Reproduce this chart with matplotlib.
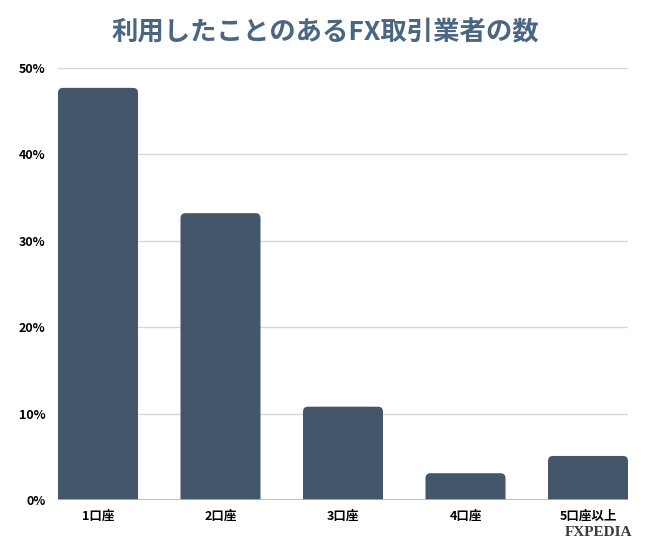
import matplotlib
matplotlib.use("Agg")
import matplotlib.pyplot as plt
from matplotlib.patches import FancyBboxPatch

plt.rcParams['font.family'] = ['Noto Sans CJK JP', 'DejaVu Sans']

categories = ['1口座', '2口座', '3口座', '4口座', '5口座以上']
values = [47.7, 33.2, 10.8, 3.1, 5.1]
yticks = [0, 10, 20, 30, 40, 50]
ytick_labels = ['0%', '10%', '20%', '30%', '40%', '50%']

bar_color = '#44576a'
title_color = '#4a6680'

fig = plt.figure(figsize=(6.5, 5.56), dpi=100)
ax = fig.add_axes([58/650, 56/556, 570/650, 432/556])

w = 0.653
bars = ax.bar(range(len(categories)), values, width=w, color='none')
ax.set_xlim(-w/2, len(categories) - 1 + w/2)
ax.set_ylim(0, 50)

# rounded top corners: redraw each bar as a rounded box, bottom pushed below the axis
px_x = 570 / (len(categories) - 1 + w)   # pixels per x unit
px_y = 432 / 50.0                        # pixels per y unit
r = 5.0 / px_x
for b in bars:
    p = FancyBboxPatch((b.get_x(), -2), b.get_width(), b.get_height() + 2,
                       boxstyle='round,pad=0,rounding_size=%f' % r,
                       mutation_aspect=px_x / px_y,
                       facecolor=bar_color, edgecolor='none', zorder=3)
    ax.add_patch(p)

ax.set_yticks(yticks)
ax.set_yticklabels(ytick_labels, fontsize=9, fontweight='bold')
ax.set_xticks(range(len(categories)))
ax.set_xticklabels(categories, fontsize=9, fontweight='bold')
ax.tick_params(axis='both', length=0)
ax.tick_params(axis='y', pad=9)
ax.tick_params(axis='x', pad=7)
ax.grid(axis='y', color='#d9d9d9', linewidth=1, zorder=0)
ax.axhline(0, color='#b5b5b5', linewidth=1.2, zorder=4)
for s in ax.spines.values():
    s.set_visible(False)

fig.text(0.5, 1 - 33/556, '利用したことのあるFX取引業者の数', ha='center', va='center',
         fontsize=19, fontweight='bold', color=title_color)
fig.text(632/650, 1 - 533/556, 'FXPEDIA', ha='right', va='center',
         fontsize=11, family='Liberation Serif', fontweight='bold', color='#3a3a3a')

fig.savefig('out.png', dpi=100)
